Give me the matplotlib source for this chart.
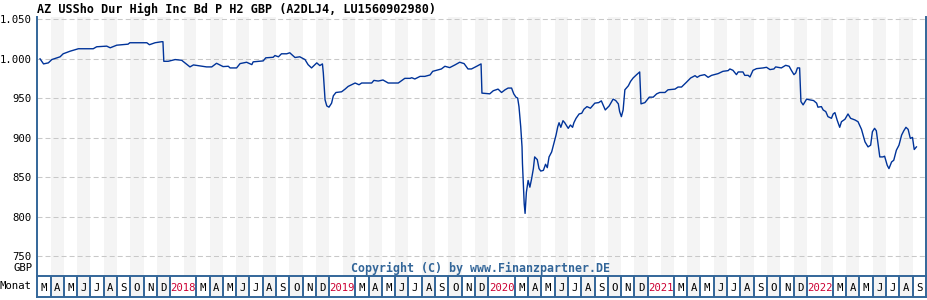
import numpy as np
import pandas as pd
import matplotlib
matplotlib.use("Agg")
import matplotlib.pyplot as plt

# days since 2017-03-01 and fund price
days = [7, 15, 26, 34, 53, 60, 76, 95, 129, 137, 160, 168, 183, 209, 213, 252, 258, 271, 286, 289,
        291, 301, 317, 332, 351, 359, 389, 401, 412, 427, 439, 443, 458, 466, 481, 493, 496, 519, 525, 542,
        546, 554, 561, 573, 580, 592, 603, 615, 622, 630, 642, 649, 655, 657, 661, 665, 670, 676, 680, 686,
        699, 707, 714, 730, 739, 745, 768, 773, 783, 794, 806, 829, 844, 856, 860, 867, 879, 890, 902, 908,
        917, 928, 936, 947, 959, 970, 980, 989, 997, 1009, 1019, 1021, 1039, 1047, 1058, 1066, 1074, 1081, 1089, 1094,
        1099, 1103, 1106, 1110, 1113, 1114, 1116, 1118, 1120, 1123, 1127, 1131, 1135, 1139, 1142, 1148, 1152, 1156, 1162, 1167,
        1171, 1175, 1181, 1186, 1191, 1195, 1198, 1202, 1207, 1211, 1219, 1224, 1229, 1232, 1237, 1244, 1250, 1255, 1262, 1270,
        1280, 1289, 1295, 1304, 1313, 1322, 1328, 1334, 1337, 1341, 1345, 1349, 1357, 1362, 1368, 1376, 1383, 1386, 1395, 1405,
        1414, 1422, 1429, 1441, 1448, 1464, 1471, 1479, 1490, 1500, 1510, 1515, 1521, 1532, 1540, 1548, 1563, 1574, 1586, 1590,
        1597, 1605, 1609, 1620, 1624, 1632, 1636, 1643, 1651, 1666, 1674, 1682, 1691, 1695, 1708, 1718, 1726, 1731, 1737, 1741,
        1745, 1750, 1753, 1758, 1766, 1773, 1782, 1789, 1792, 1800, 1804, 1810, 1815, 1823, 1827, 1831, 1836, 1842, 1846, 1854,
        1861, 1867, 1877, 1884, 1892, 1900, 1907, 1913, 1917, 1922, 1926, 1934, 1941, 1945, 1951, 1955, 1961, 1966, 1972, 1978,
        1984, 1989, 1994, 1999, 2004, 2009, 2013, 2018]
prices = [1000.0, 993.6, 994.9, 999.1, 1002.6, 1006.4, 1009.7, 1012.8, 1012.8, 1015.3, 1016.1, 1014.0, 1017.3, 1018.6, 1020.4, 1020.4, 1017.9, 1020.4, 1021.7, 1021.7,
          996.9, 996.9, 999.1, 998.2, 989.8, 992.3, 989.8, 989.8, 994.4, 990.2, 990.6, 988.5, 988.5, 994.0, 995.7, 992.7, 996.2, 997.4, 1001.3, 1002.0,
          1004.2, 1002.6, 1006.4, 1006.4, 1007.7, 1001.7, 1002.6, 999.1, 992.7, 988.5, 994.9, 991.5, 993.6, 982.1, 948.1, 940.4, 938.8, 943.9, 953.2, 957.4,
          958.3, 961.7, 965.1, 969.4, 967.2, 969.4, 969.4, 972.7, 971.9, 973.2, 969.4, 969.4, 975.3, 975.3, 976.1, 974.5, 977.8, 977.8, 979.6, 984.2,
          985.5, 987.2, 990.6, 988.9, 992.3, 995.7, 994.0, 987.2, 987.2, 990.6, 993.6, 956.6, 955.7, 959.6, 961.7, 957.4, 960.8, 963.0, 963.0, 955.7,
          951.5, 950.3, 939.5, 914.0, 888.5, 867.3, 841.8, 816.3, 804.3, 831.1, 846.0, 837.5, 848.2, 861.0, 875.8, 872.4, 861.0, 857.9, 858.8, 866.5,
          862.2, 875.8, 882.1, 892.9, 903.4, 914.0, 919.1, 913.3, 921.7, 919.1, 912.0, 916.2, 913.3, 919.1, 924.7, 930.2, 931.1, 936.2, 939.5, 937.5,
          943.9, 944.6, 946.8, 935.3, 940.4, 949.0, 947.2, 943.0, 933.2, 926.8, 935.3, 960.8, 965.9, 971.4, 975.8, 980.0, 983.4, 943.0, 944.6, 951.5,
          951.5, 955.7, 957.4, 957.4, 960.8, 961.7, 964.3, 964.3, 970.2, 975.8, 978.7, 976.6, 978.7, 980.0, 976.6, 979.1, 981.3, 984.2, 985.1, 987.2,
          985.5, 980.0, 983.4, 983.4, 979.1, 979.1, 977.0, 985.5, 987.6, 988.5, 989.3, 986.4, 987.2, 989.8, 988.5, 991.8, 990.6, 985.5, 980.0, 982.1,
          988.5, 988.5, 945.9, 941.7, 949.0, 948.1, 947.2, 943.9, 938.8, 939.5, 935.3, 933.2, 926.8, 924.7, 930.2, 931.9, 922.6, 913.3, 920.4, 923.5,
          930.2, 924.7, 922.6, 920.4, 910.7, 894.9, 888.5, 890.7, 907.7, 912.0, 908.9, 875.8, 875.8, 876.7, 865.2, 861.0, 869.4, 871.6, 884.3, 890.7,
          903.4, 908.9, 913.3, 910.7, 899.2, 900.5, 885.2, 888.5]

y_ticks = [750, 800, 850, 900, 950, 1000, 1050]
y_labels = ["750", "800", "850", "900", "950", "1.000", "1.050"]
month_letters = ["J", "F", "M", "A", "M", "J", "J", "A", "S", "O", "N", "D"]

title = "AZ USSho Dur High Inc Bd P H2 GBP (A2DLJ4, LU1560902980)"

start = pd.Timestamp("2017-03-01")
dates = start + pd.to_timedelta(days, unit="D")
months = pd.date_range("2017-03-01", "2022-10-01", freq="MS")

W, H = 928, 300
fig = plt.figure(figsize=(W / 100, H / 100), dpi=100)
mono = "DejaVu Sans Mono"
blue_border = "#336699"
grey = "#f4f4f4"

x0, x1 = 37, 926
ytop, ybot, ycell = 17, 276, 297
ax = fig.add_axes([x0 / W, 1 - ybot / H, (x1 - x0) / W, (ybot - ytop) / H])
cax = fig.add_axes([x0 / W, 1 - ycell / H, (x1 - x0) / W, (ycell - ybot) / H])

ax.set_xlim(months[0], months[-1])
for i in range(len(months) - 1):
    if i % 2 == 1:
        ax.axvspan(months[i], months[i + 1], color=grey, lw=0, zorder=0)

ax.set_ylim(725, 1053)
for v in y_ticks:
    ax.axhline(v, color="#c8c8c8", lw=0.75, linestyle=(0, (4.8, 2.9)), zorder=1)
ax.plot(dates, prices, color="#003399", lw=1.0, zorder=3)

ax.set_yticks(y_ticks)
ax.set_yticklabels(y_labels, fontfamily=mono, fontsize=7.7)
ax.tick_params(axis="y", length=0, pad=4)
ax.set_xticks([])
for side in ("top", "bottom"):
    ax.spines[side].set_visible(False)
for side in ("left", "right"):
    ax.spines[side].set_color(blue_border)
    ax.spines[side].set_linewidth(1.4)

# month cells (January and February share one cell with the year)
cax.set_xlim(months[0], months[-1])
cax.set_ylim(0, 1)
cax.set_xticks([])
cax.set_yticks([])
for s in cax.spines.values():
    s.set_color(blue_border)
    s.set_linewidth(1.4)
for i in range(len(months) - 1):
    m = months[i]
    if m.month == 2:
        continue
    end = months[i + 2] if m.month == 1 else months[i + 1]
    if m.month != 1 and i % 2 == 1:
        cax.axvspan(m, end, color=grey, lw=0, zorder=0)
    if i > 0:
        cax.axvline(m, color=blue_border, lw=1.4)
    mid = m + (end - m) / 2
    if m.month == 1:
        cax.text(mid, 0.45, str(m.year), ha="center", va="center", fontfamily=mono,
                 fontsize=7.7, color="#cc0033")
    else:
        cax.text(mid, 0.45, month_letters[m.month - 1], ha="center", va="center",
                 fontfamily=mono, fontsize=7.7, color="black")

fig.text(37 / W, 1 - 9 / H, title, ha="left", va="center", fontfamily=mono,
         fontweight="bold", fontsize=8.5)
fig.text(33 / W, 1 - 268 / H, "GBP", ha="right", va="center", fontfamily=mono, fontsize=7.7)
fig.text(31 / W, 1 - 286 / H, "Monat", ha="right", va="center", fontfamily=mono, fontsize=7.7)
fig.text(481 / W, 1 - 268 / H, "Copyright (C) by www.Finanzpartner.DE", ha="center", va="center",
         fontfamily=mono, fontweight="bold", fontsize=8.4, color=blue_border)

fig.savefig("out.png", dpi=100)
